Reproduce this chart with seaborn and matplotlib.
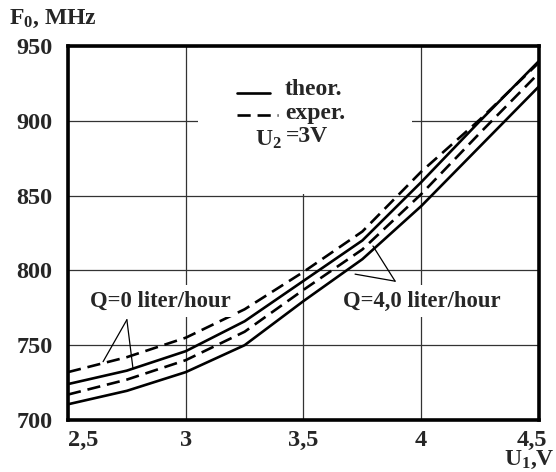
import numpy as np
import pandas as pd
import matplotlib
matplotlib.use("Agg")
import matplotlib.pyplot as plt
import matplotlib.transforms as mtransforms
import seaborn as sns
from matplotlib.patches import Rectangle

# ---- data ----
u1 = [2.5, 2.75, 3.0, 3.25, 3.5, 3.75, 4.0, 4.25, 4.5]
q0_theor = [724, 733, 746, 766, 793, 820, 859, 900, 940]
q0_exper = [732, 742, 755, 774, 799, 826, 866, 901, 939]
q4_theor = [710.5, 719.5, 732, 750, 779.5, 807.5, 843, 883, 923]
q4_exper = [717, 727, 740, 759, 787, 814, 851, 892, 932]

x_ticks = [2.5, 3.0, 3.5, 4.0, 4.5]
x_tick_labels = ["2,5", "3", "3,5", "4", "4,5"]
y_ticks = [700, 750, 800, 850, 900, 950]
y_tick_labels = ["700", "750", "800", "850", "900", "950"]

series_names = ["Q0 theor", "Q0 exper", "Q4 theor", "Q4 exper"]
series_vals = [q0_theor, q0_exper, q4_theor, q4_exper]

df = pd.DataFrame({
    "U1": np.tile(u1, len(series_names)),
    "F": np.concatenate(series_vals),
    "series": np.repeat(series_names, len(u1)),
})

# ---- style ----
sns.set_style("white")
plt.rcParams["font.family"] = ["Liberation Serif", "DejaVu Serif"]
plt.rcParams["font.weight"] = "bold"
plt.rcParams["mathtext.fontset"] = "custom"
plt.rcParams["mathtext.rm"] = "Liberation Serif:bold"
plt.rcParams["mathtext.bf"] = "Liberation Serif:bold"
plt.rcParams["mathtext.it"] = "Liberation Serif:bold"

FS = 17
FQ = 16.3
FT = 17.5
LW = 1.9
dash = (5.0, 2.6)

fig = plt.figure(figsize=(5.56, 4.72), dpi=100)
ax = fig.add_axes([0.1223, 0.1102, 0.9694 - 0.1223, 0.9025 - 0.1102])

palette = {n: "black" for n in series_names}
dashes = {"Q0 theor": "", "Q4 theor": "", "Q0 exper": dash, "Q4 exper": dash}
sns.lineplot(data=df, x="U1", y="F", hue="series", style="series",
             palette=palette, dashes=dashes, linewidth=LW, legend=False,
             ax=ax, zorder=5)

ax.set_xlim(2.5, 4.5)
ax.set_ylim(700, 950)
ax.set_xticks(x_ticks)
ax.set_xticklabels(x_tick_labels)
ax.set_yticks(y_ticks)
ax.set_yticklabels(y_tick_labels)
ax.tick_params(axis="both", length=0, labelsize=FT)
ax.tick_params(axis="x", pad=7)
ax.tick_params(axis="y", pad=11)
for lab in ax.get_xticklabels() + ax.get_yticklabels():
    lab.set_fontweight("bold")
xl = ax.get_xticklabels()
xl[0].set_ha("left")
xl[-1].set_transform(xl[-1].get_transform() +
                     mtransforms.ScaledTranslation(-0.07, 0, fig.dpi_scale_trans))

ax.set_xlabel("")
ax.set_ylabel("")
ax.grid(True, color="#333333", linewidth=0.9, zorder=0)
ax.set_axisbelow(True)
for s in ax.spines.values():
    s.set_linewidth(2.6)
    s.set_color("black")
    s.set_zorder(10)

# white area behind the legend block
ax.add_patch(Rectangle((3.052, 850.8), 3.96 - 3.052, 99.2, facecolor="white",
                       edgecolor="none", zorder=2))

# legend block (manual)
ax.plot([0.359, 0.429], [0.874, 0.874], transform=ax.transAxes, color="black",
        lw=LW, zorder=6)
ax.plot([0.359, 0.446], [0.816, 0.816], transform=ax.transAxes, color="black",
        lw=LW, ls=(0, dash), zorder=6)
ax.text(3.421, 920.6, "theor.", fontsize=FS, fontweight="bold", va="center",
        ha="left", zorder=7)
ax.text(3.421, 905, "exper.", fontsize=FS, fontweight="bold", va="center",
        ha="left", zorder=7)
ax.text(3.294, 887, r"U$_\mathbf{2}$", fontsize=FS, fontweight="bold",
        va="center", ha="left", zorder=7)
ax.text(3.425, 889.5, "=3V", fontsize=FS, fontweight="bold", va="center",
        ha="left", zorder=7)

# annotations
ax.text(2.593, 779.4, "Q=0 liter/hour", fontsize=FQ, fontweight="bold",
        va="center", ha="left", zorder=7,
        bbox=dict(facecolor="white", edgecolor="none", pad=4))
ax.plot([2.75, 2.649], [767, 739], color="black", lw=0.9, zorder=6)
ax.plot([2.75, 2.776], [767, 734.3], color="black", lw=0.9, zorder=6)

ax.text(3.668, 779.4, "Q=4,0 liter/hour", fontsize=FQ, fontweight="bold",
        va="center", ha="left", zorder=7,
        bbox=dict(facecolor="white", edgecolor="none", pad=4))
ax.plot([3.889, 3.795], [792.8, 816.3], color="black", lw=0.9, zorder=6)
ax.plot([3.889, 3.719], [792.8, 797.5], color="black", lw=0.9, zorder=6)

# axis titles
fig.text(9 / 556, 1 - 19 / 472, r"F$_\mathbf{0}$, MHz", fontsize=FS,
         fontweight="bold", va="center", ha="left")
fig.text(555 / 556, 1 - 460 / 472, r"U$_\mathbf{1}$,V", fontsize=FS,
         fontweight="bold", va="center", ha="right")

fig.savefig("out.png", dpi=100, facecolor="white")
